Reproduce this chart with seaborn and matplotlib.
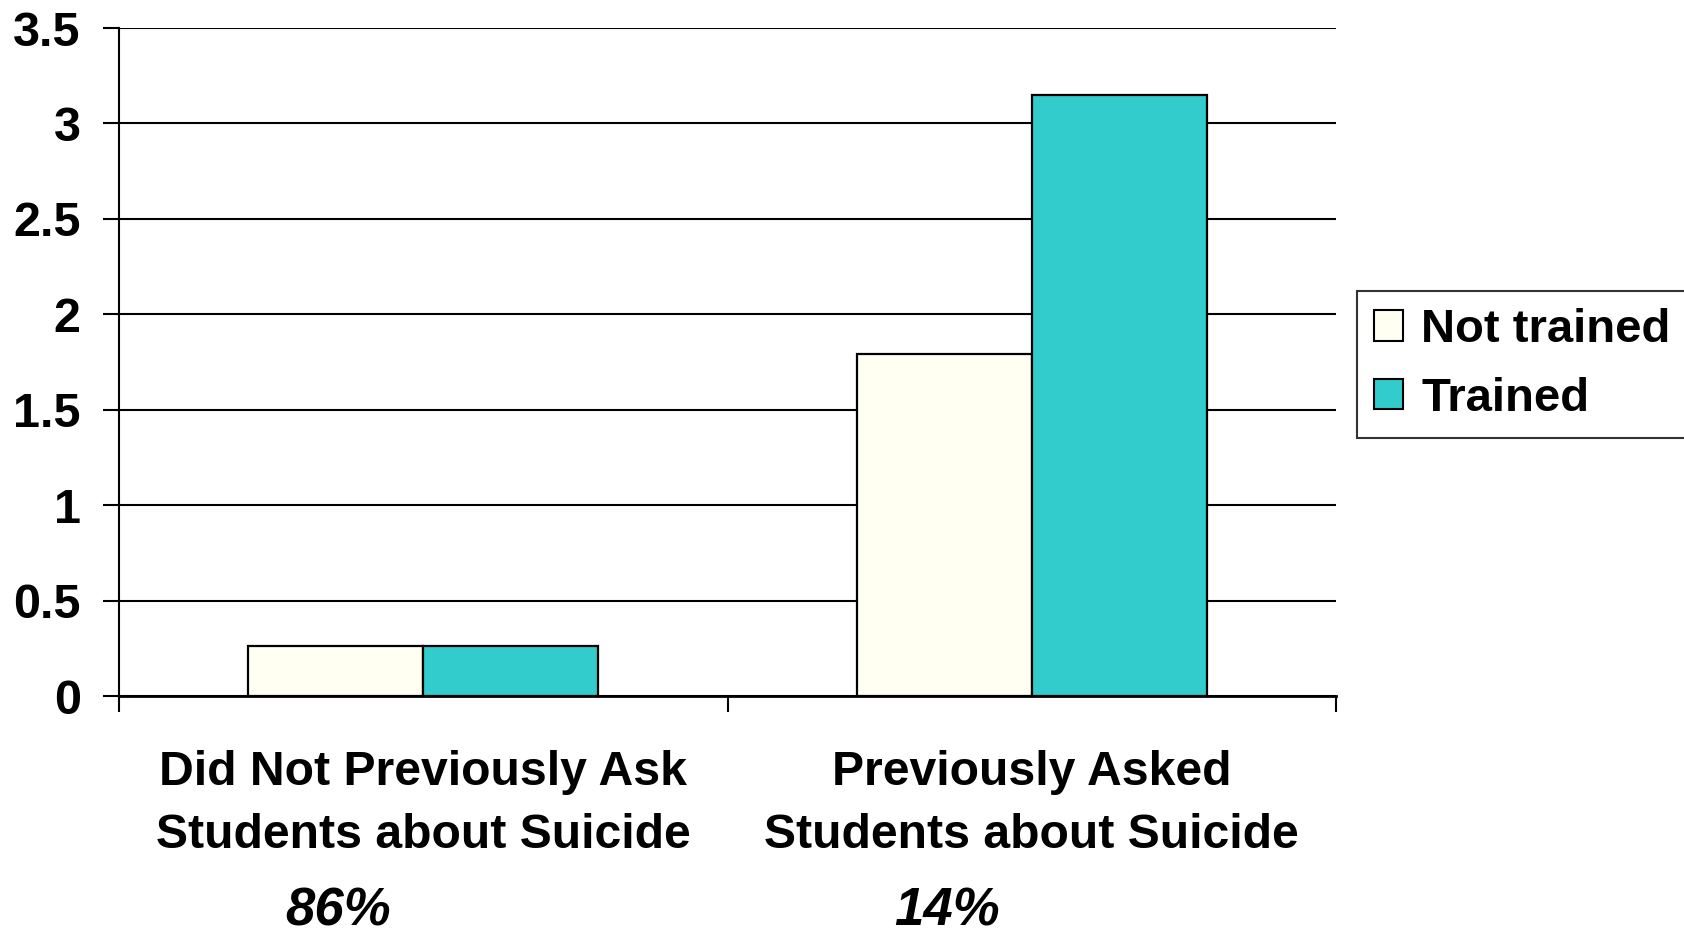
import matplotlib
matplotlib.use("Agg")
import matplotlib.pyplot as plt
import matplotlib.transforms as mtransforms
import seaborn as sns
import pandas as pd

categories = ["Did Not Previously Ask\nStudents about Suicide", "Previously Asked\nStudents about Suicide"]
groups = ["Not trained", "Trained"]
not_trained = [0.26, 1.79]
trained = [0.26, 3.15]
shares = ["86%", "14%"]
yticks = [0, 0.5, 1, 1.5, 2, 2.5, 3, 3.5]
ytick_labels = ["0", "0.5", "1", "1.5", "2", "2.5", "3", "3.5"]

df = pd.DataFrame({
    "category": categories * 2,
    "group": [groups[0]] * 2 + [groups[1]] * 2,
    "value": not_trained + trained,
})

sns.set_theme(style="white")
plt.rcParams["font.family"] = ["Liberation Sans", "DejaVu Sans"]
plt.rcParams["font.weight"] = "bold"
plt.rcParams["text.color"] = "black"
plt.rcParams["xtick.color"] = "black"
plt.rcParams["ytick.color"] = "black"

fig = plt.figure(figsize=(16.84, 9.34), dpi=100)
ax = fig.add_axes([119 / 1684, 1 - 696 / 934, (1336 - 119) / 1684, (696 - 28) / 934])

sns.barplot(data=df, x="category", y="value", hue="group", order=categories,
            hue_order=groups, palette={"Not trained": "#FFFFF2", "Trained": "#33CCCC"},
            saturation=1, width=0.576, gap=0, edgecolor="black", linewidth=1.6, ax=ax, zorder=3)

ax.set_xlim(-0.5, 1.5)
ax.set_ylim(0, 3.5)
ax.set_yticks(yticks)
ax.set_yticklabels(ytick_labels, fontsize=35, fontweight="bold")
ax.set_xticks([0, 1])
ax.set_xticklabels(categories, fontsize=34.7, fontweight="bold", linespacing=1.52)
ax.set_xticks([-0.5, 0.5, 1.5], minor=True)
ax.tick_params(axis="x", which="major", length=0, pad=39, colors="black")
ax.tick_params(axis="x", which="minor", length=11.5, width=1.5, direction="out", color="black", bottom=True)
ax.tick_params(axis="y", which="major", length=11.5, width=1.5, direction="out", pad=16, colors="black", left=True)
ax.set_xlabel("")
ax.set_ylabel("")
ax.yaxis.grid(True, color="black", linewidth=1.5, zorder=0)
ax.set_axisbelow(True)
for s in ["top", "right"]:
    ax.spines[s].set_visible(False)
ax.spines["left"].set_color("black")
ax.spines["left"].set_linewidth(1.5)
ax.spines["bottom"].set_color("black")
ax.spines["bottom"].set_linewidth(2)

trans = mtransforms.blended_transform_factory(ax.transData, fig.transFigure)
for xpos, lab in zip([-0.14, 0.86], shares):
    ax.text(xpos, 1 - 911 / 934, lab, transform=trans, ha="center", va="center",
            fontsize=38, fontweight="bold", fontstyle="italic", color="black")

ax.get_legend().remove()
handles = [plt.Rectangle((0, 0), 1, 1, facecolor=c, edgecolor="black", linewidth=1.5)
           for c in ["#FFFFF2", "#33CCCC"]]
leg = fig.legend(handles, groups, loc="upper left", bbox_to_anchor=(1357 / 1684, 1 - 291 / 934),
                 borderaxespad=0, frameon=True, fancybox=False, prop={"size": 34, "weight": "bold"},
                 handlelength=0.62, handleheight=0.62, handletextpad=0.38, labelspacing=0.52,
                 borderpad=0.36)
leg.get_frame().set_edgecolor("black")
leg.get_frame().set_linewidth(1.5)

fig.savefig("out.png", dpi=100)
